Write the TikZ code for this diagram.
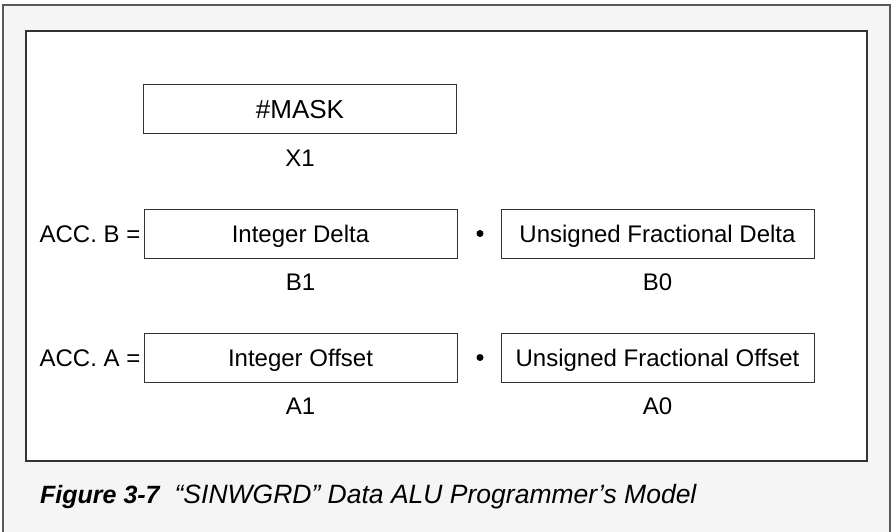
\documentclass[tikz,border=0pt]{standalone}
\usepackage{fontspec}
\setmainfont{Liberation Sans}
\usepackage{xcolor}
\usetikzlibrary{positioning}
\definecolor{pagegray}{HTML}{F5F5F5}
\definecolor{framegray}{HTML}{595959}
\tikzset{>=latex,
    register/.style={draw=black!80, fill=white, line width=1pt,
      minimum width=313pt, minimum height=49pt, inner sep=0pt,
      font=\fontsize{24}{28}\selectfont, text height=17.2pt, text depth=0pt},
    regname/.style={inner sep=0pt, font=\fontsize{24}{28}\selectfont,
      text height=17.2pt, text depth=0pt},
    joint/.style={circle, fill=black, inner sep=0pt, minimum size=7pt}}
\frenchspacing

\begin{document}
\begin{tikzpicture}[x=1pt, y=-1pt]
    \useasboundingbox (0,0) rectangle (892,532);
    \draw[framegray, line width=2pt, fill=pagegray] (3,5) rectangle (890,560);
    \draw[black!80, line width=1.5pt, fill=white] (26,31) rectangle (867,461);
    \node[register, font=\fontsize{26}{30}\selectfont, text height=18.6pt] (X1) at (300,109.5) {\#MASK};
    \node[regname, below=15pt of X1] (X1name) {X1};
    \foreach \acc/\y/\part in {B/233.5/Delta, A/357.5/Offset} {
      \node[register] (\acc1) at (300.5,\y) {Integer \part};
      \node[regname, left=3pt of \acc1] (acc\acc) {ACC. \acc\ =};
      \node[joint] (dot\acc) at (480,\y) {};
      \node[register] (\acc0) at (657.5,\y) {Unsigned Fractional \part};
      \node[regname, below=15pt of \acc1] (\acc1name) {\acc1};
      \node[regname, below=15pt of \acc0] (\acc0name) {\acc0};
    }
    \node[anchor=base west, inner sep=0pt] (caption) at (40,503)
      {\fontsize{25}{30}\selectfont\bfseries\itshape Figure 3-7\hspace{0.6em}%
       \fontsize{26.5}{30}\selectfont\mdseries “SINWGRD” Data ALU Programmer’s Model};
\end{tikzpicture}
\end{document}
